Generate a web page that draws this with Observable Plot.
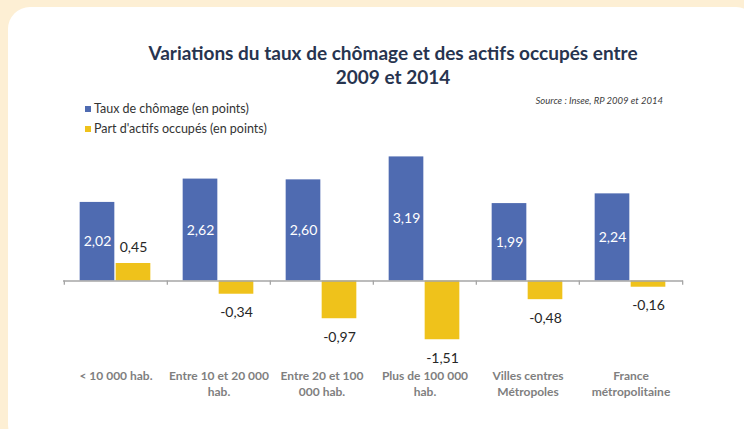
<!DOCTYPE html>
<html><head><meta charset="utf-8">
<script src="https://cdn.jsdelivr.net/npm/d3@7"></script>
<script src="https://cdn.jsdelivr.net/npm/@observablehq/plot@0.6"></script>
<style>
html,body{margin:0;padding:0;width:744px;height:429px;overflow:hidden;background:#fdefd4;font-family:Lato,"Open Sans",sans-serif;}
#panel{position:absolute;left:8px;top:7px;width:750px;height:440px;background:#fff;border-radius:22px;}
#title{position:absolute;left:0;top:41px;width:786px;text-align:center;font-weight:bold;font-size:19px;line-height:24px;color:#27344f;}
#source{position:absolute;right:81px;top:95px;font-style:italic;font-size:9.5px;color:#404040;}
#legend{position:absolute;left:85px;top:99px;font-size:12.5px;color:#333;}
#legend div{height:20px;line-height:20px;white-space:nowrap;}
#legend span.sw{display:inline-block;width:6px;height:6px;margin-right:3px;vertical-align:1px;}
#chart{position:absolute;left:0;top:0;}
</style></head>
<body>
<div id="panel"></div>
<div id="title">Variations du taux de chômage et des actifs occupés entre<br>2009 et 2014</div>
<div id="source">Source : Insee, RP 2009 et 2014</div>
<div id="legend"></div>
<div id="chart"></div>
<script>
const categories = ["< 10 000 hab.", "Entre 10 et 20 000 hab.", "Entre 20 et 100 000 hab.", "Plus de 100 000 hab.", "Villes centres Métropoles", "France métropolitaine"];
const categoryLabels = ["< 10 000 hab.", "Entre 10 et 20 000\nhab.", "Entre 20 et 100\n000 hab.", "Plus de 100 000\nhab.", "Villes centres\nMétropoles", "France\nmétropolitaine"];
const chomage = [2.02, 2.62, 2.60, 3.19, 1.99, 2.24];
const actifs = [0.45, -0.34, -0.97, -1.51, -0.48, -0.16];
const seriesNames = ["Taux de chômage (en points)", "Part d'actifs occupés (en points)"];
const seriesColors = ["#4f6bb1", "#efc21b"];

const legend = document.getElementById("legend");
seriesNames.forEach((n, i) => {
  const d = document.createElement("div");
  d.innerHTML = `<span class="sw" style="background:${seriesColors[i]}"></span>${n}`;
  legend.appendChild(d);
});

const blue = categories.map((c, i) => ({cat: c, value: chomage[i]}));
const yellow = categories.map((c, i) => ({cat: c, value: actifs[i]}));
const fmt = v => d3.format(".2f")(v).replace(".", ",").replace("\u2212", "-");

const W = 744, H = 429, ml = 63, mr = 61;
const bw = (W - ml - mr) / categories.length;
const axisColor = "#a6a6a6";

const chart = Plot.plot({
  width: W, height: H,
  marginLeft: ml, marginRight: mr, marginTop: 144.35, marginBottom: 31.8,
  x: {domain: categories, padding: 0, axis: null},
  y: {domain: [-3, 3.5], axis: null},
  style: {background: "transparent", fontFamily: "Lato, 'Open Sans', sans-serif", overflow: "visible"},
  marks: [
    Plot.barY(blue, {x: "cat", y: "value", fill: seriesColors[0], insetLeft: bw / 2 - 36, insetRight: bw / 2 + 1}),
    Plot.barY(yellow, {x: "cat", y: "value", fill: seriesColors[1], insetLeft: bw / 2, insetRight: bw / 2 - 35}),
    Plot.ruleY([0], {stroke: axisColor, strokeWidth: 1.5}),
    Plot.ruleX(categories, {x: d => d, y1: 0, y2: -0.11, dx: -bw / 2, stroke: axisColor, strokeWidth: 1.3}),
    Plot.ruleX([categories[categories.length - 1]], {x: d => d, y1: 0, y2: -0.11, dx: bw / 2, stroke: axisColor, strokeWidth: 1.3}),
    Plot.text(blue, {x: "cat", y: d => d.value / 2, text: d => fmt(d.value), dx: -18.5, fill: "white", fontSize: 14}),
    Plot.text(yellow, {filter: d => d.value >= 0, x: "cat", y: "value", text: d => fmt(d.value), dx: 17.5, dy: -15.5, fill: "#262626", fontSize: 14}),
    Plot.text(yellow, {filter: d => d.value < 0, x: "cat", y: "value", text: d => fmt(d.value), dx: 17.5, dy: 18.5, fill: "#262626", fontSize: 14}),
    Plot.text(categories, {x: d => d, text: (d, i) => categoryLabels[i], frameAnchor: "bottom", lineAnchor: "top", dy: -29, fill: "#7f7f7f", fontWeight: "bold", fontSize: 12, lineHeight: 1.33})
  ]
});
document.getElementById("chart").appendChild(chart);
</script>
</body></html>
